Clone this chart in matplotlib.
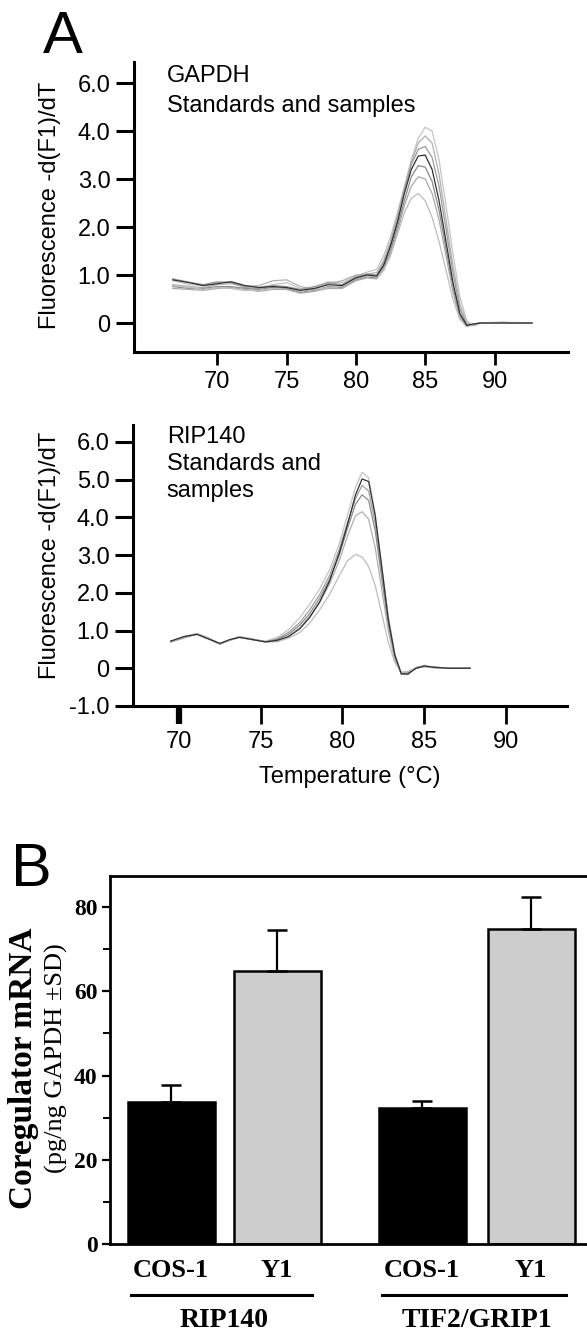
import numpy as np
import matplotlib
matplotlib.use('agg')
import matplotlib.pyplot as plt
import matplotlib.transforms as mtransforms

# ---- panel A, GAPDH melt curves ----
t_gapdh = [66.8, 68.0, 69.0, 70.0, 71.0, 72.0, 73.0, 74.0, 75.0, 76.0, 77.0,
           78.0, 79.0, 80.0, 80.8, 81.5, 82.0, 82.5, 83.0, 83.5, 84.0, 84.5,
           85.0, 85.5, 86.0, 86.5, 87.0, 87.5, 88.0, 88.5, 89.0, 90.5, 92.7]
gapdh_1 = [0.88, 0.80, 0.78, 0.84, 0.86, 0.78, 0.74, 0.80, 0.84, 0.72, 0.74, 0.86, 0.84,
           0.98, 1.06, 1.12, 1.40, 1.80, 2.30, 2.85, 3.40, 3.85, 4.08, 4.00, 3.40, 2.45,
           1.45, 0.55, 0.05, -0.06, 0.00, 0.02, 0.00]
gapdh_2 = [0.80, 0.76, 0.74, 0.80, 0.82, 0.76, 0.78, 0.88, 0.90, 0.76, 0.70, 0.82, 0.88,
           1.00, 1.02, 1.05, 1.30, 1.70, 2.25, 2.80, 3.35, 3.75, 3.90, 3.75, 3.10, 2.15,
           1.20, 0.40, 0.00, -0.05, 0.01, 0.00, 0.00]
gapdh_3 = [0.92, 0.85, 0.80, 0.86, 0.84, 0.74, 0.72, 0.78, 0.76, 0.70, 0.76, 0.84, 0.80,
           0.96, 1.02, 1.00, 1.25, 1.65, 2.15, 2.75, 3.30, 3.62, 3.68, 3.45, 2.85, 1.95,
           1.05, 0.30, -0.04, -0.03, 0.00, 0.01, 0.00]
gapdh_4 = [0.90, 0.84, 0.78, 0.82, 0.86, 0.78, 0.74, 0.76, 0.74, 0.68, 0.72, 0.80, 0.78,
           0.94, 1.00, 0.98, 1.20, 1.60, 2.10, 2.70, 3.20, 3.48, 3.50, 3.20, 2.55, 1.70,
           0.85, 0.20, -0.05, -0.02, 0.00, 0.00, 0.00]
gapdh_5 = [0.76, 0.72, 0.72, 0.76, 0.76, 0.72, 0.70, 0.74, 0.72, 0.64, 0.68, 0.76, 0.74,
           0.90, 0.96, 0.94, 1.15, 1.50, 2.00, 2.55, 3.05, 3.28, 3.25, 2.95, 2.35, 1.55,
           0.75, 0.15, -0.06, -0.02, 0.00, 0.01, 0.00]
gapdh_6 = [0.72, 0.70, 0.68, 0.72, 0.74, 0.70, 0.66, 0.70, 0.70, 0.62, 0.66, 0.72, 0.72,
           0.88, 0.94, 0.92, 1.10, 1.45, 1.90, 2.45, 2.85, 3.05, 3.00, 2.70, 2.15, 1.40,
           0.65, 0.10, -0.07, -0.02, 0.00, 0.00, 0.00]
gapdh_7 = [0.78, 0.74, 0.70, 0.74, 0.72, 0.68, 0.68, 0.72, 0.74, 0.66, 0.70, 0.74, 0.76,
           0.92, 0.98, 0.96, 1.10, 1.40, 1.85, 2.30, 2.60, 2.70, 2.55, 2.20, 1.70, 1.10,
           0.50, 0.08, -0.08, -0.03, 0.00, 0.00, 0.00]

# ---- panel A, RIP140 melt curves ----
t_rip = [69.5, 70.3, 71.1, 71.8, 72.5, 73.1, 73.7, 74.5, 75.3, 76.0, 76.7, 77.4,
         78.0, 78.6, 79.2, 79.8, 80.3, 80.8, 81.2, 81.6, 82.0, 82.4, 82.8, 83.2,
         83.6, 84.0, 84.5, 85.0, 85.5, 86.5, 87.8]
rip_1 = [0.70, 0.82, 0.92, 0.80, 0.64, 0.74, 0.84, 0.76, 0.72, 0.82, 1.02, 1.35,
         1.70, 2.10, 2.60, 3.30, 4.05, 4.80, 5.20, 5.05, 4.10, 2.70, 1.40, 0.40,
         -0.15, -0.18, 0.02, 0.08, 0.04, 0.00, 0.00]
rip_2 = [0.72, 0.84, 0.90, 0.78, 0.66, 0.76, 0.82, 0.76, 0.70, 0.74, 0.84, 1.05,
         1.35, 1.75, 2.30, 3.05, 3.80, 4.60, 5.02, 4.95, 4.05, 2.70, 1.30, 0.35,
         -0.15, -0.15, 0.00, 0.06, 0.03, 0.00, 0.00]
rip_3 = [0.70, 0.80, 0.92, 0.80, 0.64, 0.74, 0.84, 0.78, 0.70, 0.78, 0.95, 1.22,
         1.55, 1.95, 2.45, 3.15, 3.85, 4.50, 4.85, 4.70, 3.85, 2.55, 1.25, 0.30,
         -0.12, -0.14, 0.02, 0.06, 0.02, 0.00, 0.00]
rip_4 = [0.72, 0.82, 0.90, 0.78, 0.64, 0.74, 0.82, 0.76, 0.70, 0.76, 0.90, 1.15,
         1.45, 1.85, 2.35, 3.00, 3.70, 4.35, 4.60, 4.45, 3.65, 2.40, 1.15, 0.25,
         -0.15, -0.12, 0.00, 0.05, 0.03, 0.00, 0.00]
rip_5 = [0.70, 0.82, 0.92, 0.80, 0.66, 0.74, 0.84, 0.76, 0.70, 0.72, 0.85, 1.08,
         1.38, 1.75, 2.22, 2.85, 3.50, 4.05, 4.15, 3.95, 3.20, 2.10, 1.00, 0.22,
         -0.12, -0.10, 0.02, 0.05, 0.02, 0.00, 0.00]
rip_6 = [0.72, 0.84, 0.92, 0.80, 0.64, 0.74, 0.84, 0.76, 0.70, 0.70, 0.80, 0.95,
         1.20, 1.55, 1.95, 2.45, 2.85, 3.02, 2.95, 2.70, 2.20, 1.45, 0.70, 0.15,
         -0.10, -0.08, 0.00, 0.04, 0.02, 0.00, 0.00]

gapdh_curves = [gapdh_1, gapdh_2, gapdh_3, gapdh_5, gapdh_6, gapdh_7, gapdh_4]
gapdh_colors = ['#c4c4c4', '#b0b0b0', '#9c9c9c', '#8a8a8a', '#aaaaaa', '#bdbdbd', '#303030']
rip_curves = [rip_1, rip_3, rip_4, rip_5, rip_6, rip_2]
rip_colors = ['#c4c4c4', '#a0a0a0', '#8c8c8c', '#b0b0b0', '#bdbdbd', '#303030']

melt_yticks = [0, 1, 2, 3, 4, 5]
gapdh_ylabels = ['0', '1.0', '2.0', '3.0', '4.0', '6.0']
rip_yticks = [-1, 0, 1, 2, 3, 4, 5, 6]
rip_ylabels = ['-1.0', '0', '1.0', '2.0', '3.0', '4.0', '5.0', '6.0']
temp_ticks = [70, 75, 80, 85, 90]

# ---- panel B ----
cells = ['COS-1', 'Y1', 'COS-1', 'Y1']
genes = ['RIP140', 'TIF2/GRIP1']
mrna = [33.7, 64.8, 32.3, 74.8]
mrna_sd = [4.1, 9.8, 1.7, 7.6]
bar_colors = ['black', '#cdcdcd', 'black', '#cdcdcd']

W, H = 587, 1333
fig = plt.figure(figsize=(W / 100, H / 100), dpi=100)

sans = 'Liberation Sans'
serif = 'Liberation Serif'


def rect(l, t, r, b):
    return [l / W, 1 - b / H, (r - l) / W, (b - t) / H]


def style_melt(ax, xticks_len):
    for s in ['top', 'right']:
        ax.spines[s].set_visible(False)
    for s in ['left', 'bottom']:
        ax.spines[s].set_linewidth(2.2)
    ax.tick_params(axis='y', direction='out', length=13, width=2.2, pad=4,
                   labelsize=17)
    ax.tick_params(axis='x', direction='out', length=xticks_len, width=2.0, pad=5,
                   labelsize=17)
    for lab in ax.get_xticklabels() + ax.get_yticklabels():
        lab.set_fontfamily(sans)


# top: GAPDH
ax1 = fig.add_axes(rect(134, 62, 568, 352))
for y, c in zip(gapdh_curves, gapdh_colors):
    ax1.plot(t_gapdh, y, color=c, lw=0.9)
ax1.set_xlim(64.0, 95.3)
ax1.set_ylim(-0.604, 5.44)
ax1.set_yticks(melt_yticks)
ax1.set_yticklabels(gapdh_ylabels)
ax1.set_xticks(temp_ticks)
ax1.set_xticklabels([str(t) for t in temp_ticks])
style_melt(ax1, 9)
ax1.text(0.076, 0.931, 'GAPDH', transform=ax1.transAxes, fontsize=17,
         family=sans, va='baseline')
ax1.text(0.076, 0.828, 'Standards and samples', transform=ax1.transAxes,
         fontsize=17, family=sans, va='baseline')

# bottom: RIP140
ax2 = fig.add_axes(rect(133, 425, 567, 706))
for y, c in zip(rip_curves, rip_colors):
    ax2.plot(t_rip, y, color=c, lw=0.9)
ax2.set_xlim(67.19, 93.73)
ax2.set_ylim(-1.0, 6.45)
ax2.set_yticks(rip_yticks)
ax2.set_yticklabels(rip_ylabels)
ax2.set_xticks(temp_ticks)
ax2.set_xticklabels([str(t) for t in temp_ticks])
style_melt(ax2, 13)
ax2.xaxis.get_major_ticks()[0].tick1line.set_markeredgewidth(4.5)
ax2.set_xlabel('Temperature (\u00b0C)', fontsize=17, family=sans, labelpad=9)
ax2.text(0.078, 0.936, 'RIP140', transform=ax2.transAxes, fontsize=17,
         family=sans, va='baseline')
ax2.text(0.078, 0.840, 'Standards and', transform=ax2.transAxes, fontsize=17,
         family=sans, va='baseline')
ax2.text(0.078, 0.744, 'samples', transform=ax2.transAxes, fontsize=17,
         family=sans, va='baseline')

for yc in [205, 555]:
    fig.text(50 / W, 1 - yc / H, 'Fluorescence -d(F1)/dT', rotation=90,
             ha='center', va='center', fontsize=17, family=sans)

fig.text(43 / W, 1 - 53 / H, 'A', fontsize=43, family=sans, va='baseline')
fig.text(11 / W, 1 - 886 / H, 'B', fontsize=44, family=sans, va='baseline')

# panel B bars
ax3 = fig.add_axes(rect(110, 876, 587, 1244))
pos = np.array([0, 1.06, 2.51, 3.6])
ax3.bar(pos, mrna, width=0.87, color=bar_colors, edgecolor='black', linewidth=1.8,
        zorder=2)
ax3.errorbar(pos, mrna, yerr=[np.zeros(len(mrna)), mrna_sd], fmt='none',
             ecolor='black', elinewidth=1.6, capsize=7, capthick=1.8, zorder=3)
ax3.set_xlim(-0.61, 4.16)
ax3.set_ylim(0, 87.4)
ax3.spines['right'].set_visible(False)
for s in ['left', 'bottom', 'top']:
    ax3.spines[s].set_linewidth(2.0)
ax3.set_yticks([0, 20, 40, 60, 80])
ax3.set_yticks([10, 30, 50, 70], minor=True)
ax3.tick_params(axis='y', which='major', length=6, width=1.6, pad=3, labelsize=17)
ax3.tick_params(axis='y', which='minor', length=5, width=1.4)
for lab in ax3.get_yticklabels():
    lab.set_fontfamily(serif)
    lab.set_fontweight('bold')
ax3.set_xticks(pos)
ax3.set_xticklabels(cells)
ax3.tick_params(axis='x', length=0, pad=11, labelsize=19)
for lab in ax3.get_xticklabels():
    lab.set_fontfamily(serif)
    lab.set_fontweight('bold')

trans = mtransforms.blended_transform_factory(ax3.transData, ax3.transAxes)
for i, g in enumerate(genes):
    a, b = pos[2 * i], pos[2 * i + 1]
    ax3.plot([a - 0.40, b + 0.35], [-0.139, -0.139], color='black', lw=2.2,
             transform=trans, clip_on=False)
    ax3.text((a + b) / 2, -0.207, g, transform=trans, ha='center', va='center',
             fontsize=20, family=serif, fontweight='bold')

fig.text(24 / W, 1 - 1068 / H, 'Coregulator mRNA', rotation=90, ha='center',
         va='center', fontsize=24, family=serif, fontweight='bold')
fig.text(56 / W, 1 - 1058 / H, '(pg/ng GAPDH \u00b1SD)', rotation=90, ha='center',
         va='center', fontsize=19, family=serif)

plt.savefig('out.png', dpi=100)
